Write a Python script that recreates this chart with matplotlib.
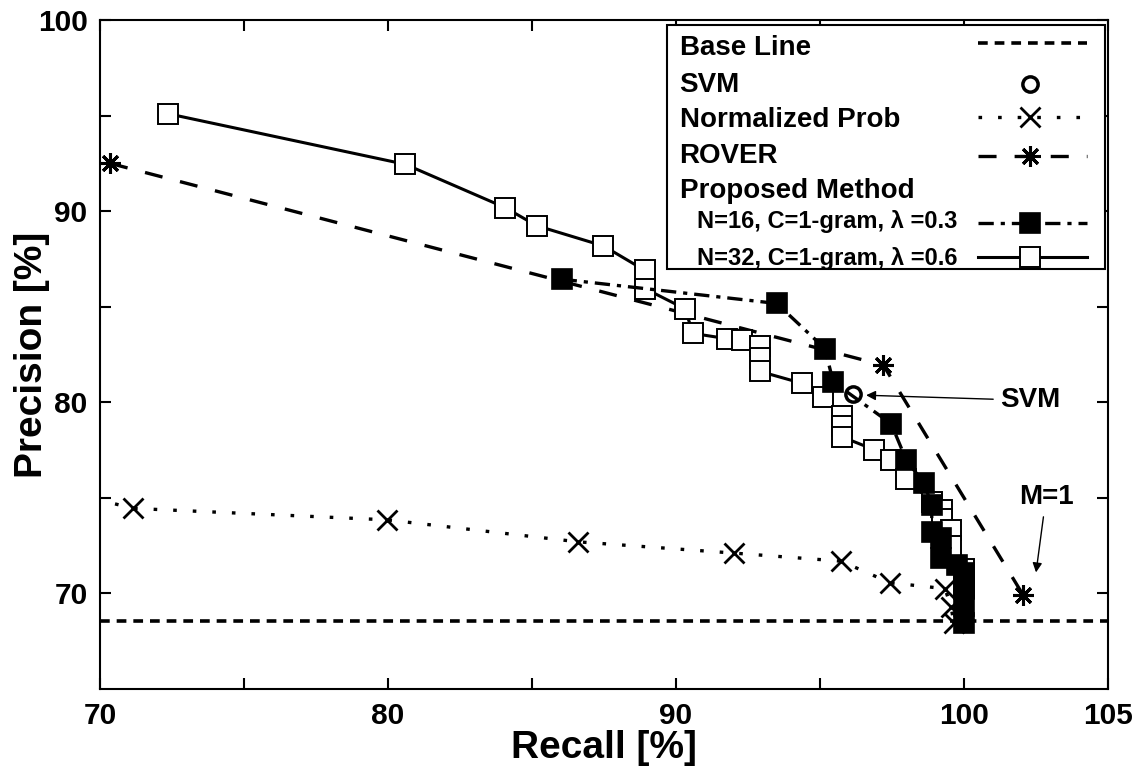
import matplotlib
matplotlib.use('Agg')
import matplotlib.pyplot as plt
from matplotlib.lines import Line2D
from matplotlib.patches import Rectangle

plt.rcParams['font.family'] = ['Liberation Sans', 'DejaVu Sans']
plt.rcParams['font.weight'] = 'bold'
plt.rcParams['lines.scale_dashes'] = False

# recall / precision pairs for every system
baseline_prec = 68.55

svm_recall = [96.15]
svm_prec = [80.45]

norm_recall = [69.2, 71.16, 79.97, 86.6, 92.02, 95.73, 97.43, 99.34, 99.55, 99.65]
norm_prec = [75.17, 74.45, 73.85, 72.7, 72.11, 71.69, 70.56, 70.25, 69.3, 68.45]

rover_recall = [70.35, 97.2, 102.06]
rover_prec = [92.5, 81.94, 69.9]

n16_recall = [86.03, 93.5, 95.17, 95.46, 97.47, 98.0, 98.6, 98.88, 98.88, 99.2, 99.2,
              99.76, 100.0, 100.0, 100.0, 100.0]
n16_prec = [86.44, 85.17, 82.81, 81.06, 78.88, 76.96, 75.8, 74.63, 73.2, 72.9, 71.86,
            71.47, 71.07, 70.21, 69.32, 68.46]

n32_recall = [72.35, 80.6, 84.06, 85.16, 87.48, 88.92, 88.92, 90.3, 90.6, 91.76, 92.3,
              92.9, 92.9, 92.9, 94.36, 95.1, 95.75, 95.75, 95.75, 96.88, 97.45, 97.97,
              98.9, 99.25, 99.25, 99.55, 99.55, 100.0, 100.0]
n32_prec = [95.1, 92.45, 90.19, 89.24, 88.18, 86.9, 85.95, 84.9, 83.6, 83.33, 83.25,
            82.92, 82.3, 81.62, 81.0, 80.28, 79.28, 78.74, 78.2, 77.52, 76.96, 76.0,
            74.8, 74.35, 73.9, 73.3, 72.5, 71.3, 70.3]

legend_labels = ['Base Line', 'SVM', 'Normalized Prob', 'ROVER', 'Proposed Method',
                 'N=16, C=1-gram, λ =0.3', 'N=32, C=1-gram, λ =0.6']

base_style = dict(color='k', lw=2.6, dashes=(7, 5))
svm_style = dict(color='k', ls='none', marker='o', ms=11, mfc='none', mew=2.5)
norm_style = dict(color='k', lw=2.4, dashes=(2.6, 11.5), marker='x', ms=14, mew=2.0)
rover_style = dict(color='k', lw=2.4, dashes=(13, 13), marker=(8, 2, 0), ms=15, mew=2.2)
n16_style = dict(color='k', lw=2.4, dashes=(11, 5, 3, 5), marker='s', ms=14,
                 mfc='k', mec='k', mew=1.2)
n32_style = dict(color='k', lw=2.2, ls='-', marker='s', ms=14, mfc='white',
                 mec='k', mew=1.4)

fig = plt.figure(figsize=(11.39, 7.69), dpi=100)
ax = fig.add_axes([0.0878, 0.104, 0.885, 0.870])

ax.axhline(baseline_prec, **base_style)
ax.plot(norm_recall, norm_prec, **norm_style)
ax.plot(rover_recall, rover_prec, **rover_style)
ax.plot(n32_recall, n32_prec, **n32_style)
ax.plot(n16_recall, n16_prec, **n16_style)
ax.plot(svm_recall, svm_prec, **svm_style)

ax.annotate('SVM', xy=(96.6, 80.37), xytext=(102.3, 80.1), ha='center', va='center',
            fontsize=20, fontweight='bold',
            arrowprops=dict(arrowstyle='-|>', color='k', lw=1.0, mutation_scale=14,
                            shrinkA=3, shrinkB=0))
ax.annotate('M=1', xy=(102.5, 71.1), xytext=(102.85, 75.05), ha='center', va='center',
            fontsize=20, fontweight='bold',
            arrowprops=dict(arrowstyle='-|>', color='k', lw=1.0, mutation_scale=14,
                            shrinkA=3, shrinkB=0))

ax.set_xlim(70, 105)
ax.set_ylim(65, 100)
ax.set_xticks([70, 75, 80, 85, 90, 95, 100, 105])
ax.set_xticklabels(['70', '', '80', '', '90', '', '100', '105'])
ax.set_yticks([70, 75, 80, 85, 90, 95, 100])
ax.set_yticklabels(['70', '', '80', '', '90', '', '100'])
ax.tick_params(direction='in', length=8, width=1.5, top=True, right=True,
               labelsize=21.5, pad=9)
for s in ax.spines.values():
    s.set_linewidth(1.5)

ax.set_xlabel('Recall [%]', fontsize=28, fontweight='bold', labelpad=0)
ax.set_ylabel('Precision [%]', fontsize=28, fontweight='bold')
ax.yaxis.set_label_coords(-0.05, 0.5)

# legend: labels on the left, samples on the right
box = Rectangle((0.5625, 0.628), 0.4345, 0.3645, transform=ax.transAxes,
                facecolor='white', edgecolor='k', lw=1.5, zorder=5)
ax.add_patch(box)
text_y = [0.9477, 0.8928, 0.8405, 0.7858, 0.7335, 0.6886, 0.6338]
handle_y = [0.965, 0.905, 0.855, 0.797, None, 0.697, 0.645]
styles = [base_style, svm_style, norm_style, rover_style, None, n16_style, n32_style]
for i, lab in enumerate(legend_labels):
    sub = i >= 5
    ax.text(0.592 if sub else 0.575, text_y[i], lab, transform=ax.transAxes,
            fontsize=17 if sub else 20, fontweight='bold', va='baseline', zorder=6)
    st = styles[i]
    if st is None:
        continue
    line_kw = {k: v for k, v in st.items() if k not in ('marker', 'ms', 'mfc', 'mec', 'mew')}
    if st.get('ls') != 'none':
        ax.add_line(Line2D([0.871, 0.979], [handle_y[i]] * 2, transform=ax.transAxes,
                           zorder=6, **line_kw))
    if 'marker' in st:
        mk = {k: v for k, v in st.items() if k in ('color', 'marker', 'ms', 'mfc', 'mec', 'mew')}
        ax.add_line(Line2D([0.9226], [handle_y[i]], transform=ax.transAxes, ls='none',
                           zorder=7, **mk))

fig.savefig('out.png', dpi=100)
